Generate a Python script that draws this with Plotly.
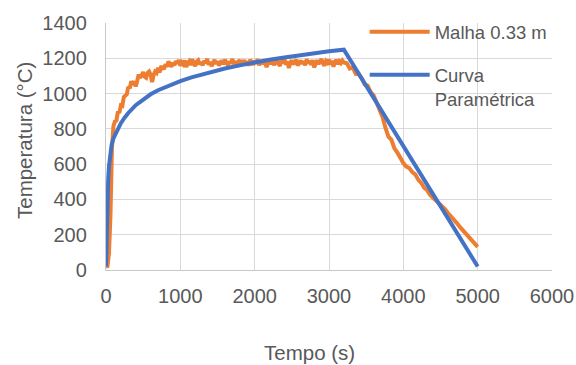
import plotly.graph_objects as go

# Simulated gas temperature for the 0.33 m mesh (s, °C)
malha_t = ([0, 20, 40, 60, 80, 100]
           + list(range(120, 3201, 20))
           + list(range(3240, 5001, 40)))
malha_temp = [
    # 0-100 s
    20, 22, 95, 310, 690, 815,
    # 120-900 s (every 20 s)
    842, 847, 898, 890, 933, 930, 980, 992, 996, 1038,
    1030, 1070, 1048, 1070, 1040, 1071, 1108, 1089, 1105, 1121,
    1095, 1089, 1117, 1125, 1109, 1065, 1104, 1124, 1117, 1146,
    1119, 1149, 1149, 1138, 1166, 1152, 1182, 1161, 1152, 1175,
    # 920-3200 s (every 20 s)
    1160, 1184, 1171, 1190, 1158, 1176, 1166, 1188, 1150, 1174,
    1183, 1162, 1195, 1170, 1156, 1181, 1189, 1165, 1178, 1160,
    1186, 1172, 1197, 1163, 1180, 1155, 1176, 1191, 1168, 1184,
    1159, 1178, 1187, 1166, 1193, 1174, 1161, 1182, 1170, 1196,
    1167, 1185, 1153, 1179, 1190, 1164, 1177, 1188, 1169, 1183,
    1158, 1192, 1175, 1163, 1186, 1171, 1195, 1160, 1181, 1168,
    1189, 1176, 1150, 1180, 1193, 1167, 1184, 1162, 1178, 1191,
    1170, 1157, 1186, 1173, 1196, 1164, 1182, 1145, 1175, 1188,
    1166, 1180, 1192, 1159, 1177, 1187, 1169, 1183, 1161, 1194,
    1172, 1185, 1163, 1190, 1148, 1178, 1189, 1167, 1181, 1196,
    1170, 1158, 1184, 1175, 1192, 1164, 1186, 1152, 1179, 1190,
    1168, 1183, 1173, 1187, 1176,
    # 3240-5000 s (every 40 s)
    1172, 1142, 1148, 1112, 1110, 1086, 1052, 1044, 1008, 990,
    945, 910, 868, 805, 756, 738, 690, 665, 632, 606,
    586, 578, 555, 542, 512, 494, 466, 452, 426, 410,
    390, 381, 362, 346, 323, 306, 283, 266, 244, 226,
    204, 189, 168, 151, 131,
]

# Parametric fire curve: heating branch then linear cooling (s, °C)
param_t = [0, 5, 10, 15, 20, 30, 40, 50, 75, 100, 150, 200, 250, 300, 400,
           500, 600, 700, 850, 1000, 1150, 1300, 1600, 1800, 2000, 2200,
           2400, 2600, 2800, 3000, 3200, 5000]
param_temp = [20, 151, 257, 343, 413, 517, 588, 637, 708, 746, 795, 832, 863,
              890, 934, 968, 996, 1019, 1047, 1071, 1092, 1110, 1142, 1160,
              1177, 1192, 1205, 1218, 1229, 1240, 1249, 20]

x_ticks = [0, 1000, 2000, 3000, 4000, 5000, 6000]
y_ticks = [0, 200, 400, 600, 800, 1000, 1200, 1400]

FONT = "Liberation Sans, Arial, sans-serif"
TXT = "#595959"
GRID = "#D9D9D9"

fig = go.Figure()
fig.add_trace(go.Scatter(
    x=malha_t, y=malha_temp, mode="lines", name="Malha 0.33 m",
    line=dict(color="#ED7D31", width=4), legendgroup="a",
))
fig.add_trace(go.Scatter(
    x=param_t, y=param_temp, mode="lines", name="Curva<br>Paramétrica",
    line=dict(color="#4472C4", width=4), legendgroup="b",
))

fig.update_layout(
    width=576, height=365,
    margin=dict(l=106, r=24, t=23, b=95),
    paper_bgcolor="white", plot_bgcolor="white",
    font=dict(family=FONT, color=TXT, size=20),
    showlegend=True,
    legend=dict(
        x=0.58, y=1.04, xanchor="left", yanchor="top",
        bgcolor="rgba(0,0,0,0)", font=dict(size=18.5, color=TXT),
        tracegroupgap=16, valign="top", itemwidth=60,
    ),
    annotations=[
        dict(text="Temperatura (°C)", xref="paper", yref="paper",
             x=-0.184, y=0.526, xanchor="center", yanchor="middle",
             textangle=-90, showarrow=False,
             font=dict(size=20.5, color=TXT)),
        dict(text="Tempo (s)", xref="paper", yref="paper",
             x=0.457, y=-0.332, xanchor="center", yanchor="middle",
             showarrow=False, font=dict(size=20.5, color=TXT)),
    ],
)
fig.update_xaxes(
    range=[0, 6000], tickvals=x_ticks, showgrid=True, gridcolor=GRID,
    gridwidth=1.3, zeroline=False, showline=True, linecolor="#C8C8C8",
    linewidth=1.3, ticks="", tickfont=dict(size=20, color=TXT),
    ticklabelstandoff=8, automargin=False,
)
fig.update_yaxes(
    range=[0, 1400], tickvals=y_ticks, showgrid=True, gridcolor=GRID,
    gridwidth=1.3, zeroline=False, showline=True, linecolor="#C8C8C8",
    linewidth=1.3, ticks="", tickfont=dict(size=20, color=TXT),
    ticklabelstandoff=14, automargin=False,
)

fig.write_html("out.html")
